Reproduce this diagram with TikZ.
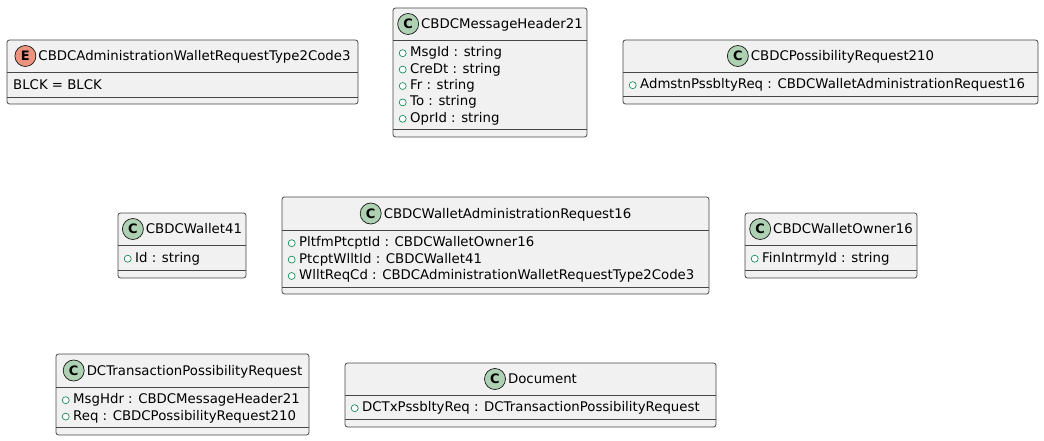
\documentclass[tikz,border=0pt]{standalone}
\usepackage{fontspec}
\setmainfont{DejaVu Sans}
\usetikzlibrary{positioning}
\definecolor{boxfill}{HTML}{F1F1F1}
\definecolor{boxline}{HTML}{181818}
\definecolor{classspot}{HTML}{ADD1B2}
\definecolor{enumspot}{HTML}{EB937F}
\definecolor{pubgreen}{HTML}{038048}
\tikzset{
  umlbox/.style={draw=boxline!80, fill=boxfill, line width=0.8pt, rounded corners=2.5pt},
  sepline/.style={draw=boxline!80, line width=0.8pt},
  spot/.style={circle, draw=boxline, line width=0.7pt, minimum size=21pt, inner sep=0pt, font=\fontsize{13}{13}\selectfont\bfseries},
  headtext/.style={inner sep=0pt, text height=9.6pt, text depth=0pt, font=\fontsize{13.3}{16}\selectfont},
  field/.style={anchor=west, inner sep=0pt, text height=9.6pt, text depth=0pt, font=\fontsize{13.3}{16}\selectfont},
  pub/.style={circle, draw=pubgreen, fill=white, line width=0.6pt, minimum size=7pt, inner sep=0pt, yshift=-1.2pt}
}
\begin{document}
\begin{tikzpicture}[x=1pt, y=-1pt]
\useasboundingbox (0,0) rectangle (1044,441);

% enum CBDCAdministrationWalletRequestType2Code3
\draw[umlbox] (7,40) rectangle (358,104);
\draw[sepline] (7,72) -- (358,72);
\draw[sepline] (7,97) -- (358,97);
\node[headtext] (codeT) at (194.5,56) {CBDCAdministrationWalletRequestType2Code3};
\node[spot, fill=enumspot, left=2pt of codeT] (codeS) {E};
\node[field] (codeF1) at (13,84.5) {BLCK = BLCK};

% CBDCMessageHeader21
\draw[umlbox] (393,8) rectangle (587,137);
\draw[sepline] (393,40) -- (587,40);
\draw[sepline] (393,129) -- (587,129);
\node[headtext] (hdrT) at (502,24) {CBDCMessageHeader21};
\node[spot, fill=classspot, left=2pt of hdrT] (hdrS) {C};
\foreach \f [count=\i] in {MsgId : string, CreDt : string, Fr : string, To : string, OprId : string}
{
  \node[field] (hdrF\i) at (410,35.6+16.4*\i) {\f};
  \node[pub, left=3.5pt of hdrF\i] (hdrV\i) {};
}

% CBDCPossibilityRequest210
\draw[umlbox] (623,40) rectangle (1038,104);
\draw[sepline] (623,72) -- (1038,72);
\draw[sepline] (623,96) -- (1038,96);
\node[headtext] (possT) at (842.5,56) {CBDCPossibilityRequest210};
\node[spot, fill=classspot, left=2pt of possT] (possS) {C};
\node[field] (possF1) at (640,84) {AdmstnPssbltyReq : CBDCWalletAdministrationRequest16};
\node[pub, left=3.5pt of possF1] (possV1) {};

% CBDCWallet41
\draw[umlbox] (118,213) rectangle (246,278);
\draw[sepline] (118,245) -- (246,245);
\draw[sepline] (118,270) -- (246,270);
\node[headtext] (wltT) at (194,229) {CBDCWallet41};
\node[spot, fill=classspot, left=2pt of wltT] (wltS) {C};
\node[field] (wltF1) at (135,257.5) {Id : string};
\node[pub, left=3.5pt of wltF1] (wltV1) {};

% CBDCWalletAdministrationRequest16
\draw[umlbox] (282,197) rectangle (709,294);
\draw[sepline] (282,230) -- (709,230);
\draw[sepline] (282,287) -- (709,287);
\node[headtext] (admT) at (507.5,213.5) {CBDCWalletAdministrationRequest16};
\node[spot, fill=classspot, left=2pt of admT] (admS) {C};
\foreach \f [count=\i] in {PltfmPtcptId : CBDCWalletOwner16, PtcptWlltId : CBDCWallet41, WlltReqCd : CBDCAdministrationWalletRequestType2Code3}
{
  \node[field] (admF\i) at (299,225.6+16.4*\i) {\f};
  \node[pub, left=3.5pt of admF\i] (admV\i) {};
}

% CBDCWalletOwner16
\draw[umlbox] (745,213) rectangle (917,278);
\draw[sepline] (745,245) -- (917,245);
\draw[sepline] (745,270) -- (917,270);
\node[headtext] (ownT) at (843,229) {CBDCWalletOwner16};
\node[spot, fill=classspot, left=2pt of ownT] (ownS) {C};
\node[field] (ownF1) at (762,257.5) {FinIntrmyId : string};
\node[pub, left=3.5pt of ownF1] (ownV1) {};

% DCTransactionPossibilityRequest
\draw[umlbox] (56,354) rectangle (309,435);
\draw[sepline] (56,387) -- (309,387);
\draw[sepline] (56,427) -- (309,427);
\node[headtext] (txT) at (194.5,370.5) {DCTransactionPossibilityRequest};
\node[spot, fill=classspot, left=2pt of txT] (txS) {C};
\foreach \f [count=\i] in {MsgHdr : CBDCMessageHeader21, Req : CBDCPossibilityRequest210}
{
  \node[field] (txF\i) at (73,382.6+16.4*\i) {\f};
  \node[pub, left=3.5pt of txF\i] (txV\i) {};
}

% Document
\draw[umlbox] (345,363) rectangle (716,427);
\draw[sepline] (345,395) -- (716,395);
\draw[sepline] (345,419) -- (716,419);
\node[headtext] (docT) at (542.5,379) {Document};
\node[spot, fill=classspot, left=2pt of docT] (docS) {C};
\node[field] (docF1) at (362,407) {DCTxPssbltyReq : DCTransactionPossibilityRequest};
\node[pub, left=3.5pt of docF1] (docV1) {};
\end{tikzpicture}
\end{document}
